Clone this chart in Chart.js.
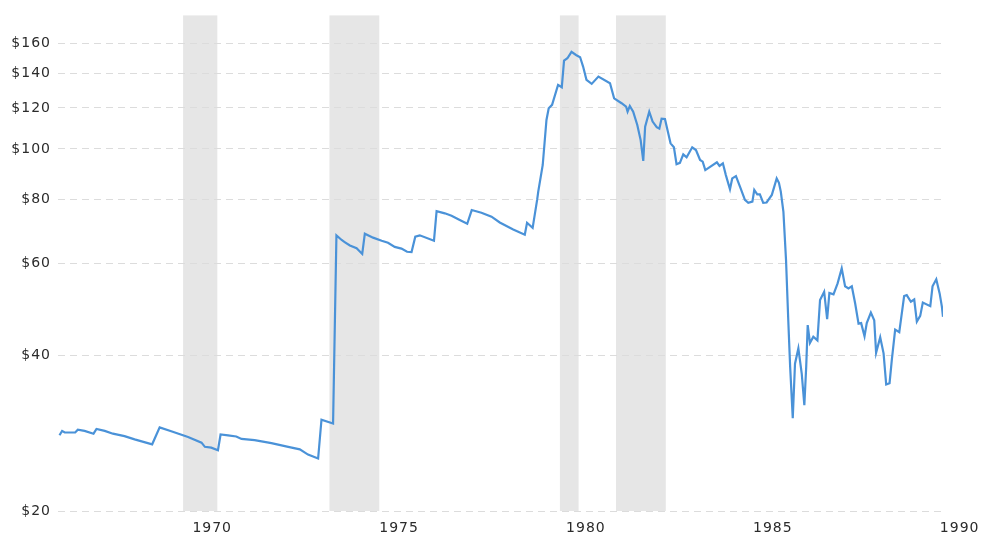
<!DOCTYPE html>
<html>
<head>
<meta charset="utf-8">
<title>Price history 1966-1990</title>
<script src="https://cdn.jsdelivr.net/npm/chart.js@4.4.1/dist/chart.umd.min.js"></script>
<style>
    html, body { margin: 0; padding: 0; background: #fff; }
    #wrap { width: 982px; height: 533px; position: relative; }
</style>
</head>
<body>
<div id="wrap"><canvas id="priceChart"></canvas></div>
<script>
// time of each reading (decimal year) and the price
const years = [
    1966.61, 1966.68, 1966.75, 1967.03, 1967.10, 1967.28, 1967.52, 1967.60, 1967.82, 1968.04,
    1968.35, 1968.62, 1969.09, 1969.29, 1969.60, 1970.05, 1970.41, 1970.50, 1970.67, 1970.85,
    1970.92, 1971.12, 1971.34, 1971.48, 1971.83, 1972.28, 1972.73, 1973.04, 1973.26, 1973.53,
    1973.62, 1973.93, 1974.02, 1974.16, 1974.24, 1974.38, 1974.56, 1974.71, 1974.78, 1975.00,
    1975.23, 1975.40, 1975.58, 1975.76, 1975.91, 1976.03, 1976.13, 1976.25, 1976.63, 1976.70,
    1976.92, 1977.10, 1977.32, 1977.52, 1977.64, 1977.90, 1978.17, 1978.39, 1978.75, 1979.06,
    1979.12, 1979.27, 1979.39, 1979.42, 1979.54, 1979.64, 1979.70, 1979.79, 1979.95, 1980.05,
    1980.11, 1980.20, 1980.31, 1980.43, 1980.54, 1980.62, 1980.71, 1980.85, 1981.03, 1981.34,
    1981.45, 1981.65, 1981.77, 1981.81, 1981.87, 1981.96, 1982.07, 1982.16, 1982.23, 1982.28,
    1982.39, 1982.48, 1982.59, 1982.66, 1982.72, 1982.81, 1982.96, 1983.05, 1983.12, 1983.21,
    1983.30, 1983.39, 1983.54, 1983.64, 1983.75, 1983.82, 1983.89, 1984.20, 1984.27, 1984.36,
    1984.44, 1984.55, 1984.61, 1984.71, 1984.82, 1984.95, 1985.04, 1985.15, 1985.20, 1985.28,
    1985.35, 1985.44, 1985.53, 1985.67, 1985.80, 1985.86, 1985.91, 1985.98, 1986.05, 1986.11,
    1986.16, 1986.23, 1986.29, 1986.38, 1986.47, 1986.54, 1986.59, 1986.63, 1986.69, 1986.78,
    1986.89, 1986.96, 1987.07, 1987.15, 1987.21, 1987.32, 1987.43, 1987.54, 1987.63, 1987.72,
    1987.81, 1987.90, 1987.99, 1988.06, 1988.15, 1988.21, 1988.32, 1988.41, 1988.46, 1988.57,
    1988.66, 1988.73, 1988.82, 1988.88, 1988.97, 1989.08, 1989.21, 1989.28, 1989.39, 1989.48,
    1989.55, 1989.64, 1989.71, 1989.91, 1989.97, 1990.07, 1990.16, 1990.22, 1990.25
];

const prices = [
    28.0, 28.55, 28.35, 28.35, 28.7, 28.55, 28.2, 28.8, 28.55, 28.2,
    27.9, 27.5, 26.9, 29.0, 28.5, 27.8, 27.1, 26.6, 26.5, 26.2,
    28.1, 28.0, 27.85, 27.55, 27.4, 27.05, 26.6, 26.3, 25.7, 25.25,
    30.0, 29.5, 68.1, 66.7, 66.1, 65.1, 64.3, 62.7, 68.6, 67.4,
    66.5, 65.9, 64.7, 64.2, 63.3, 63.2, 67.7, 68.1, 66.5, 75.8,
    75.1, 74.3, 72.9, 71.7, 76.2, 75.3, 74.0, 72.1, 69.9, 68.3,
    72.0, 70.4, 79.7, 82.7, 93.1, 113.7, 119.8, 121.6, 132.9, 131.5,
    148.0, 149.6, 153.9, 151.8, 150.3, 144.2, 135.9, 133.5, 137.9, 133.9,
    125.2, 122.5, 120.7, 118.0, 121.0, 118.0, 111.2, 104.0, 94.8, 110.4,
    118.0, 112.9, 110.1, 109.4, 114.4, 114.2, 102.5, 100.7, 93.4, 94.0,
    97.6, 96.3, 100.7, 99.5, 95.2, 94.5, 91.0, 94.2, 92.7, 93.8,
    89.0, 83.6, 87.7, 88.6, 84.5, 79.7, 78.7, 79.1, 83.3, 81.7,
    81.7, 78.7, 78.8, 81.5, 87.7, 86.0, 82.7, 75.6, 61.0, 46.7,
    38.0, 30.2, 38.5, 41.2, 36.85, 32.0, 38.0, 45.7, 42.2, 43.4,
    42.7, 51.1, 53.0, 46.9, 52.7, 52.4, 55.0, 58.8, 54.3, 53.8,
    54.3, 50.3, 46.0, 46.1, 43.5, 46.1, 48.3, 46.7, 40.4, 43.3,
    40.3, 35.1, 35.3, 39.1, 44.8, 44.3, 52.0, 52.2, 50.7, 51.2,
    46.4, 47.6, 50.5, 49.7, 54.3, 56.0, 52.6, 49.6, 47.4
];

// shaded recession periods
const recessionStart = [1969.917, 1973.833, 1980.0, 1981.5];
const recessionEnd = [1970.833, 1975.167, 1980.5, 1982.833];

// axis ticks
const xTicks = [1970, 1975, 1980, 1985, 1990];
const yTicks = [20, 40, 60, 80, 100, 120, 140, 160];

const points = years.map((yr, i) => ({ x: yr, y: prices[i] }));

// grey bands drawn under the grid and the line
const recessionBands = {
    id: 'recessionBands',
    beforeDraw(chart) {
        const { ctx, chartArea, scales } = chart;
        // wider lettering like the original axis labels
        ctx.letterSpacing = '1px';
        ctx.save();
        ctx.fillStyle = '#e6e6e6';
        for (let i = 0; i < recessionStart.length; i++) {
            const x0 = scales.x.getPixelForValue(recessionStart[i]);
            const x1 = scales.x.getPixelForValue(recessionEnd[i]);
            ctx.fillRect(x0, chartArea.top, x1 - x0, chartArea.bottom - chartArea.top);
        }
        ctx.restore();
    }
};

Chart.defaults.font.family = "'DejaVu Sans', Verdana, sans-serif";
Chart.defaults.font.size = 14;
Chart.defaults.color = '#2b2b2b';

new Chart(document.getElementById('priceChart'), {
    type: 'line',
    data: {
        datasets: [{
            data: points,
            borderColor: '#4a92d8',
            borderWidth: 2.2,
            pointRadius: 0,
            tension: 0,
            fill: false
        }]
    },
    options: {
        responsive: true,
        maintainAspectRatio: false,
        animation: false,
        layout: {
            padding: { top: 15, right: 39, left: 0, bottom: 0 }
        },
        plugins: {
            legend: { display: false },
            tooltip: { enabled: false }
        },
        scales: {
            x: {
                type: 'linear',
                min: 1966.57,
                max: 1990.25,
                afterBuildTicks: axis => { axis.ticks = xTicks.map(v => ({ value: v })); },
                afterFit: axis => { axis.height = 22; },
                grid: { display: false, drawTicks: false },
                border: { display: false },
                ticks: {
                    padding: 9,
                    labelOffset: 26,
                    maxRotation: 0,
                    callback: v => String(v)
                }
            },
            y: {
                type: 'logarithmic',
                min: 20,
                max: 181,
                afterBuildTicks: axis => { axis.ticks = yTicks.map(v => ({ value: v })); },
                afterFit: axis => { axis.width = 58; },
                grid: {
                    color: '#dcdcdc',
                    lineWidth: 1,
                    drawTicks: false
                },
                border: { display: false, dash: [7, 5] },
                ticks: {
                    padding: 7,
                    callback: v => '$' + v
                }
            }
        }
    },
    plugins: [recessionBands]
});
</script>
</body>
</html>
